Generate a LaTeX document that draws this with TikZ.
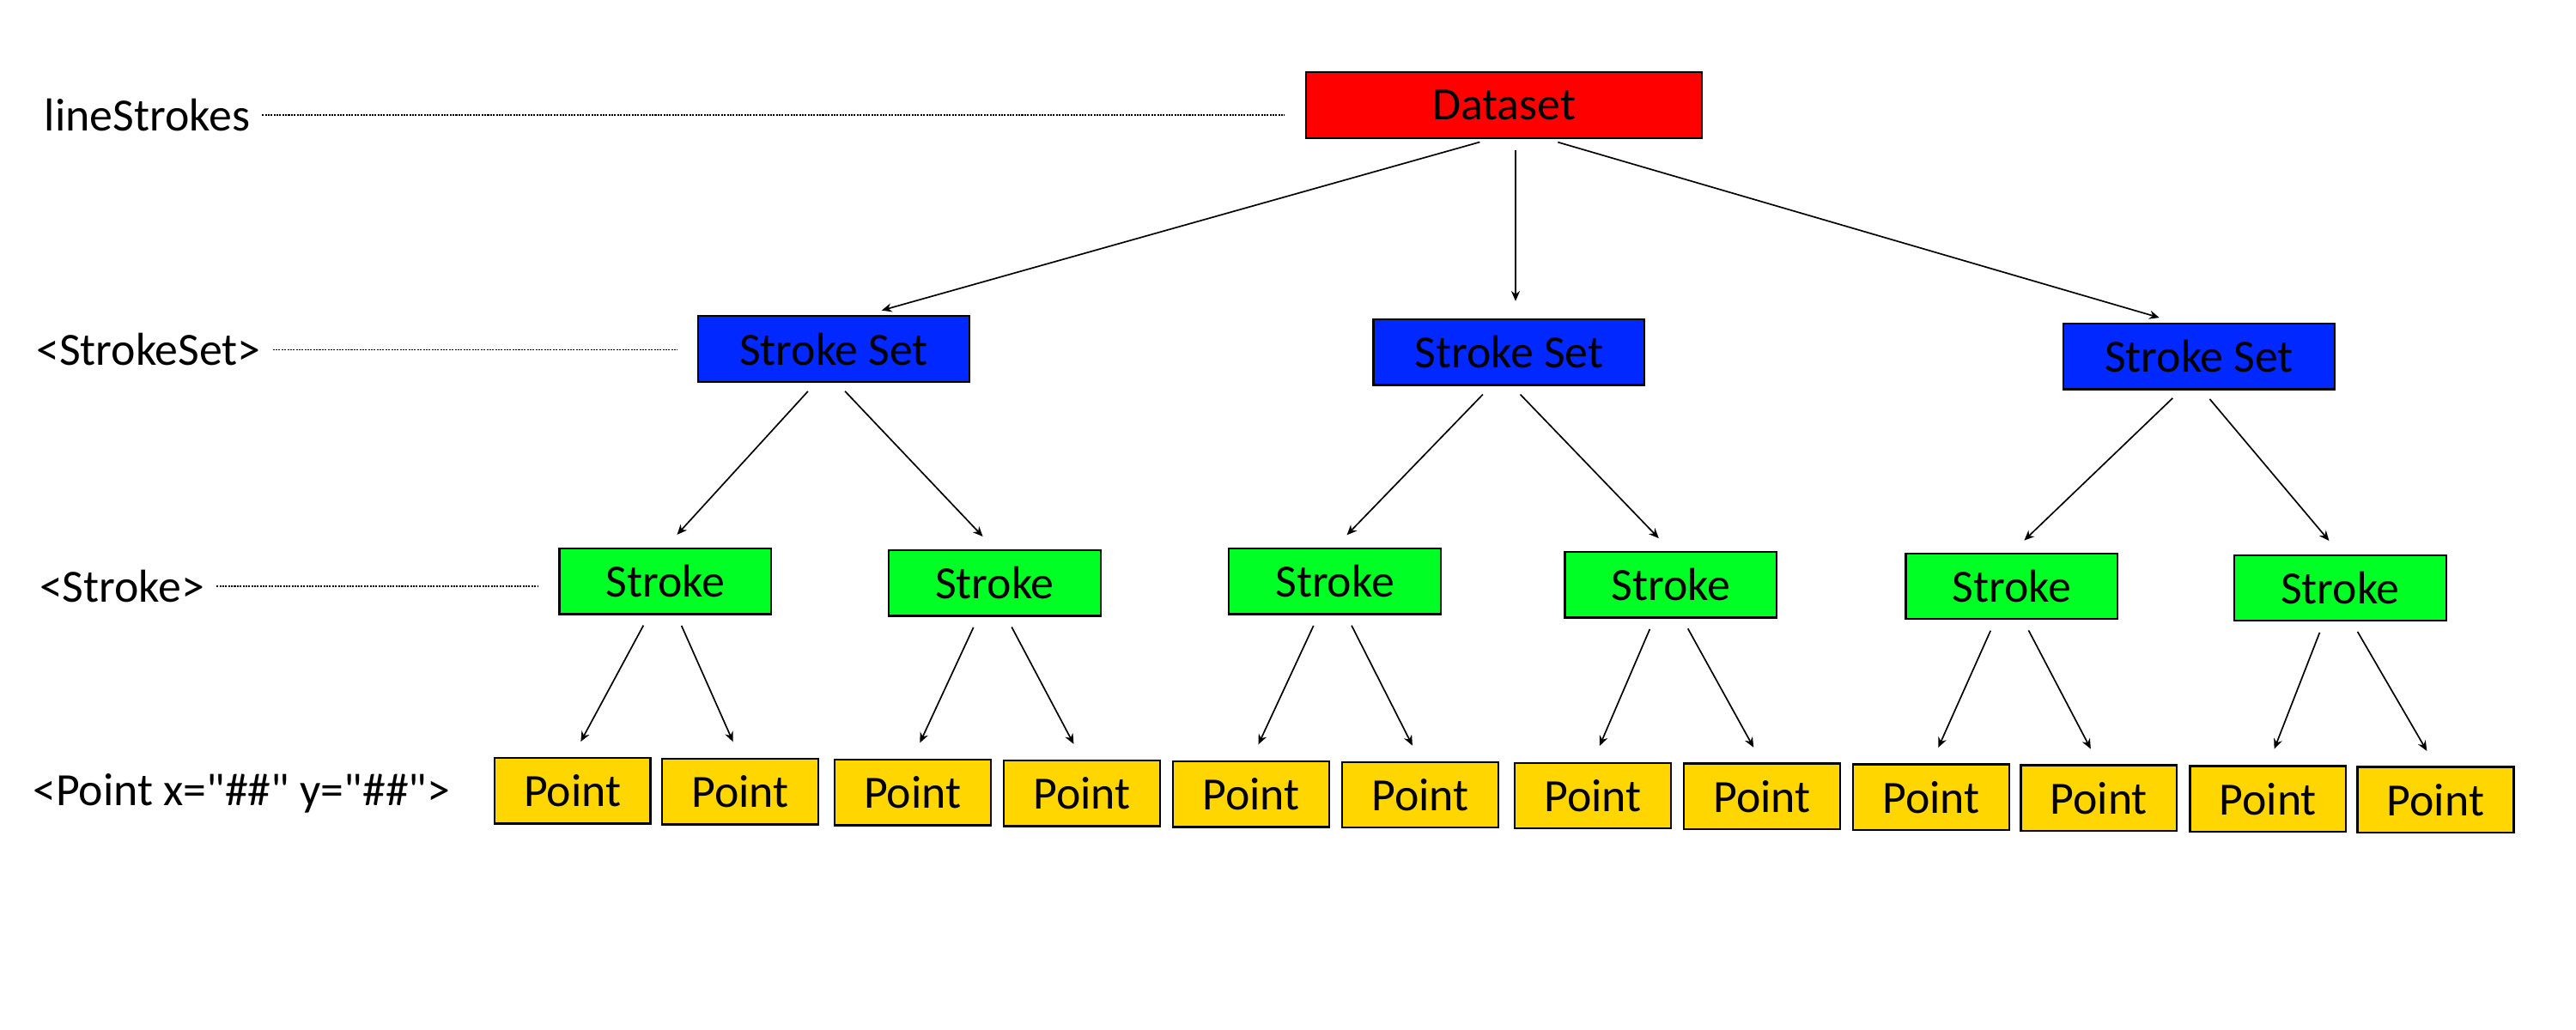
\documentclass[tikz,border=0pt]{standalone}
\usepackage{fontspec}
\setmainfont{Carlito}[Ligatures=TeXOff]
\usepackage{xcolor}
\definecolor{dsred}{RGB}{255,0,0}
\definecolor{ssblue}{RGB}{0,40,255}
\definecolor{stgreen}{RGB}{0,255,36}
\definecolor{ptgold}{RGB}{255,214,0}
\usepackage{tikz}
\usetikzlibrary{arrows.meta, positioning}

\tikzset{
  box/.style={draw=black, line width=0.7pt, minimum height=0.8cm, inner sep=0pt, font=\fontsize{16}{19}\selectfont},
  dsbox/.style={box, fill=dsred, minimum width=4.82cm},
  setbox/.style={box, fill=ssblue, minimum width=3.3cm},
  strokebox/.style={box, fill=stgreen, minimum width=2.58cm},
  pointbox/.style={box, fill=ptgold, minimum width=1.9cm},
  tag/.style={anchor=west, inner sep=1pt, font=\fontsize{16}{19}\selectfont},
  link/.style={-{Stealth[length=3.5pt, width=3pt]}, line width=0.5pt, shorten <=4pt, shorten >=6pt},
  guide/.style={line width=0.5pt, dash pattern=on 0.6pt off 0.4pt, shorten <=3pt, shorten >=7pt}
}

\begin{document}
\begin{tikzpicture}
  \useasboundingbox (0,0) rectangle (31.36,-12.54);

  % --- Level labels on the left ---
  \node[tag] (tagds) at (0.50,-1.40) {lineStrokes};
  \node[tag] (tagss) at (0.40,-4.26) {<StrokeSet>};
  \node[tag] (tagst) at (0.44,-7.14) {<Stroke>};
  \node[tag] (tagpt) at (0.36,-9.66) {<Point x="\#\#" y="\#\#">};

  % --- Root ---
  \node[dsbox] (ds) at (18.31,-1.28) {Dataset};

  % --- Stroke sets ---
  \node[setbox] (ss1) at (10.15,-4.25) {Stroke Set};
  \node[setbox] (ss2) at (18.37,-4.29) {Stroke Set};
  \node[setbox] (ss3) at (26.77,-4.34) {Stroke Set};

  % --- Strokes ---
  \node[strokebox] (st1) at (8.10,-7.08) {Stroke};
  \node[strokebox] (st2) at (12.11,-7.10) {Stroke};
  \node[strokebox] (st3) at (16.25,-7.08) {Stroke};
  \node[strokebox] (st4) at (20.34,-7.12) {Stroke};
  \node[strokebox] (st5) at (24.49,-7.14) {Stroke};
  \node[strokebox] (st6) at (28.49,-7.16) {Stroke};

  % --- Points ---
  \node[pointbox] (pt1)  at (6.97,-9.63)  {Point};
  \node[pointbox] (pt2)  at (9.01,-9.64)  {Point};
  \node[pointbox] (pt3)  at (11.11,-9.65) {Point};
  \node[pointbox] (pt4)  at (13.17,-9.66) {Point};
  \node[pointbox] (pt5)  at (15.23,-9.67) {Point};
  \node[pointbox] (pt6)  at (17.29,-9.68) {Point};
  \node[pointbox] (pt7)  at (19.39,-9.69) {Point};
  \node[pointbox] (pt8)  at (21.45,-9.70) {Point};
  \node[pointbox] (pt9)  at (23.51,-9.71) {Point};
  \node[pointbox] (pt10) at (25.55,-9.72) {Point};
  \node[pointbox] (pt11) at (27.61,-9.73) {Point};
  \node[pointbox] (pt12) at (29.65,-9.74) {Point};

  % --- Dotted guides from labels to the first box of each level ---
  \draw[guide] (tagds.east) -- (tagds.east -| ds.west);
  \draw[guide] (tagss.east) -- (tagss.east -| ss1.west);
  \draw[guide] (tagst.east) -- (tagst.east -| st1.west);

  % --- Dataset to stroke sets ---
  \draw[link] ([xshift=-0.16cm]ds.south) -- ([xshift=0.38cm]ss1.north);
  \draw[link] ([xshift=0.14cm]ds.south)  -- ([xshift=0.08cm]ss2.north);
  \draw[link] ([xshift=0.52cm]ds.south)  -- ([xshift=-0.28cm]ss3.north);

  % --- Stroke sets to strokes ---
  \draw[link] ([xshift=-0.22cm]ss1.south) -- (st1.north);
  \draw[link] ([xshift=0.04cm]ss1.south)  -- (st2.north);
  \draw[link] ([xshift=-0.22cm]ss2.south) -- (st3.north);
  \draw[link] ([xshift=0.04cm]ss2.south)  -- (st4.north);
  \draw[link] ([xshift=-0.22cm]ss3.south) -- (st5.north);
  \draw[link] ([xshift=0.04cm]ss3.south)  -- (st6.north);

  % --- Strokes to points ---
  \draw[link] ([xshift=-0.2cm]st1.south) -- (pt1.north);
  \draw[link] ([xshift=0.14cm]st1.south) -- (pt2.north);
  \draw[link] ([xshift=-0.2cm]st2.south) -- (pt3.north);
  \draw[link] ([xshift=0.14cm]st2.south) -- (pt4.north);
  \draw[link] ([xshift=-0.2cm]st3.south) -- (pt5.north);
  \draw[link] ([xshift=0.14cm]st3.south) -- (pt6.north);
  \draw[link] ([xshift=-0.2cm]st4.south) -- (pt7.north);
  \draw[link] ([xshift=0.14cm]st4.south) -- (pt8.north);
  \draw[link] ([xshift=-0.2cm]st5.south) -- (pt9.north);
  \draw[link] ([xshift=0.14cm]st5.south) -- (pt10.north);
  \draw[link] ([xshift=-0.2cm]st6.south) -- (pt11.north);
  \draw[link] ([xshift=0.14cm]st6.south) -- (pt12.north);
\end{tikzpicture}
\end{document}
